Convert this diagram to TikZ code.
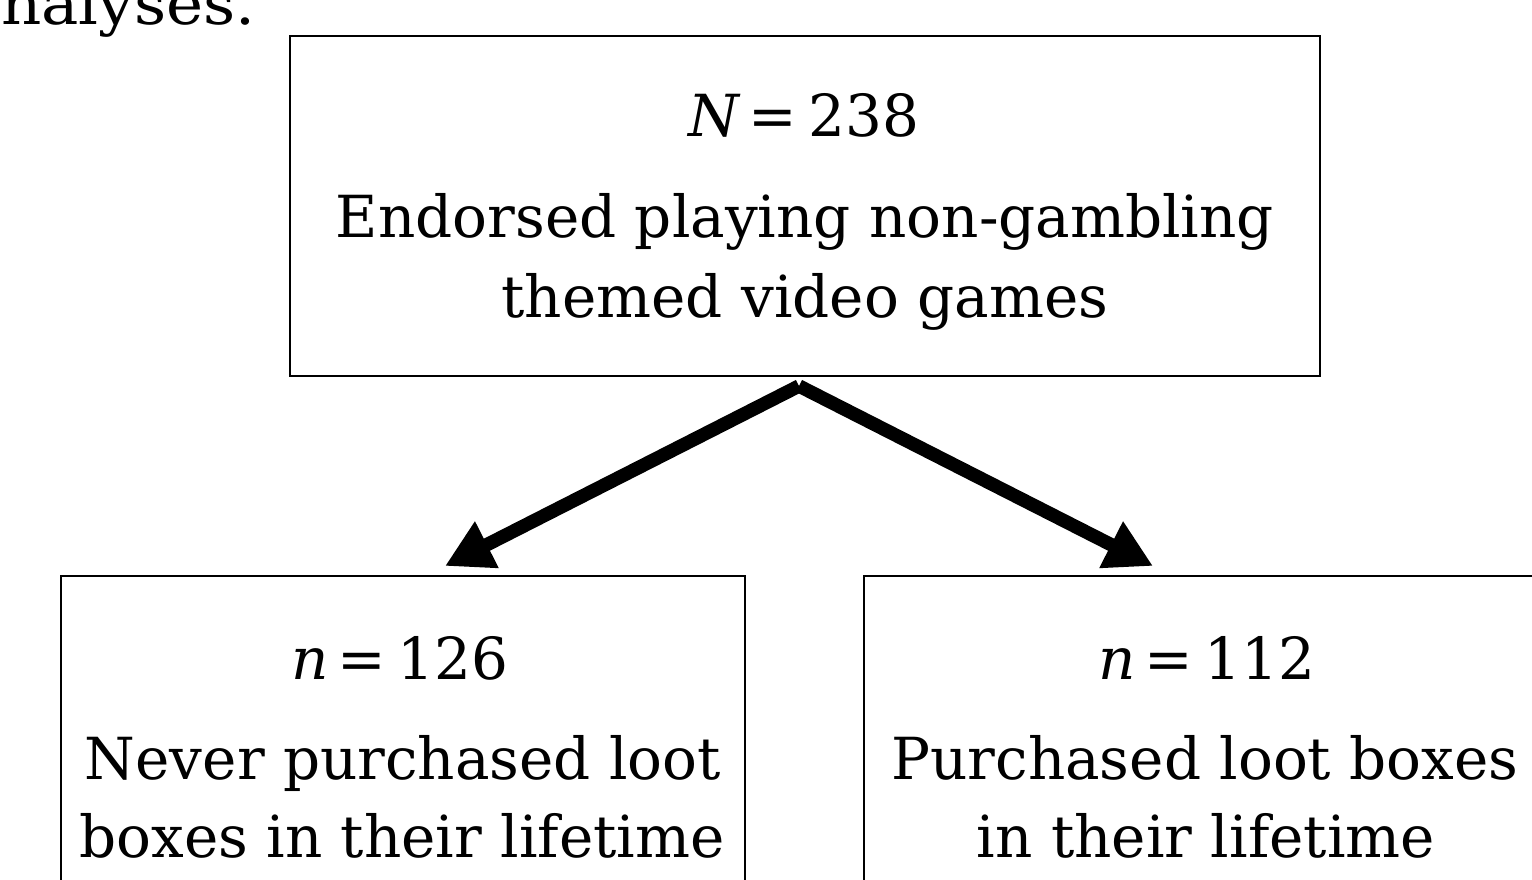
\documentclass[tikz,border=0pt]{standalone}
\usepackage{fontspec}
\setmainfont{DejaVu Serif}
\usetikzlibrary{arrows.meta}
\newcommand{\eqsp}[2]{\textit{#1}\hspace{0.14em}=\hspace{0.2em}#2}
\begin{document}
\begin{tikzpicture}[x=1pt,y=-1pt,
  box/.style={draw, line width=1.5pt, inner sep=0pt, fill=none},
  txt/.style={anchor=base, inner sep=0pt, font=\fontsize{58}{64}\selectfont},
  flow/.style={line width=13.5pt, -{Triangle[length=47pt,width=49pt]}}]
\useasboundingbox[fill=white] (0,0) rectangle (1532,880);
% boxes
\node[box, minimum width=1030pt, minimum height=340pt] (top) at (805,206) {};
\node[box, minimum width=684pt, minimum height=424pt] (left) at (403,788) {};
\node[box, minimum width=776pt, minimum height=424pt] (right) at (1252,788) {};
% stray text from surrounding page
\node[txt, anchor=base west] (prev) at (1,25) {\scalebox{1.08}[1]{nalyses.}};
% top box text
\node[txt] (tN) at (804,137) {\eqsp{N}{238}};
\node[txt] (t1) at (805,237) {Endorsed playing non-gambling};
\node[txt] (t2) at (805,317) {themed video games};
% left box text
\node[txt] (lN) at (400,679) {\eqsp{n}{126}};
\node[txt] (l1) at (403,779) {Never purchased loot};
\node[txt] (l2) at (402,857) {boxes in their lifetime};
% right box text
\node[txt] (rN) at (1207,679) {\eqsp{n}{112}};
\node[txt] (r1) at (1205,779) {Purchased loot boxes};
\node[txt] (r2) at (1206,857) {in their lifetime};
% connectors
\coordinate (apex) at (799,386);
\coordinate (tipL) at (445,566);
\coordinate (tipR) at (1153,566);
\draw[flow] (apex) -- (tipL);
\draw[flow] (apex) -- (tipR);
\end{tikzpicture}
\end{document}
